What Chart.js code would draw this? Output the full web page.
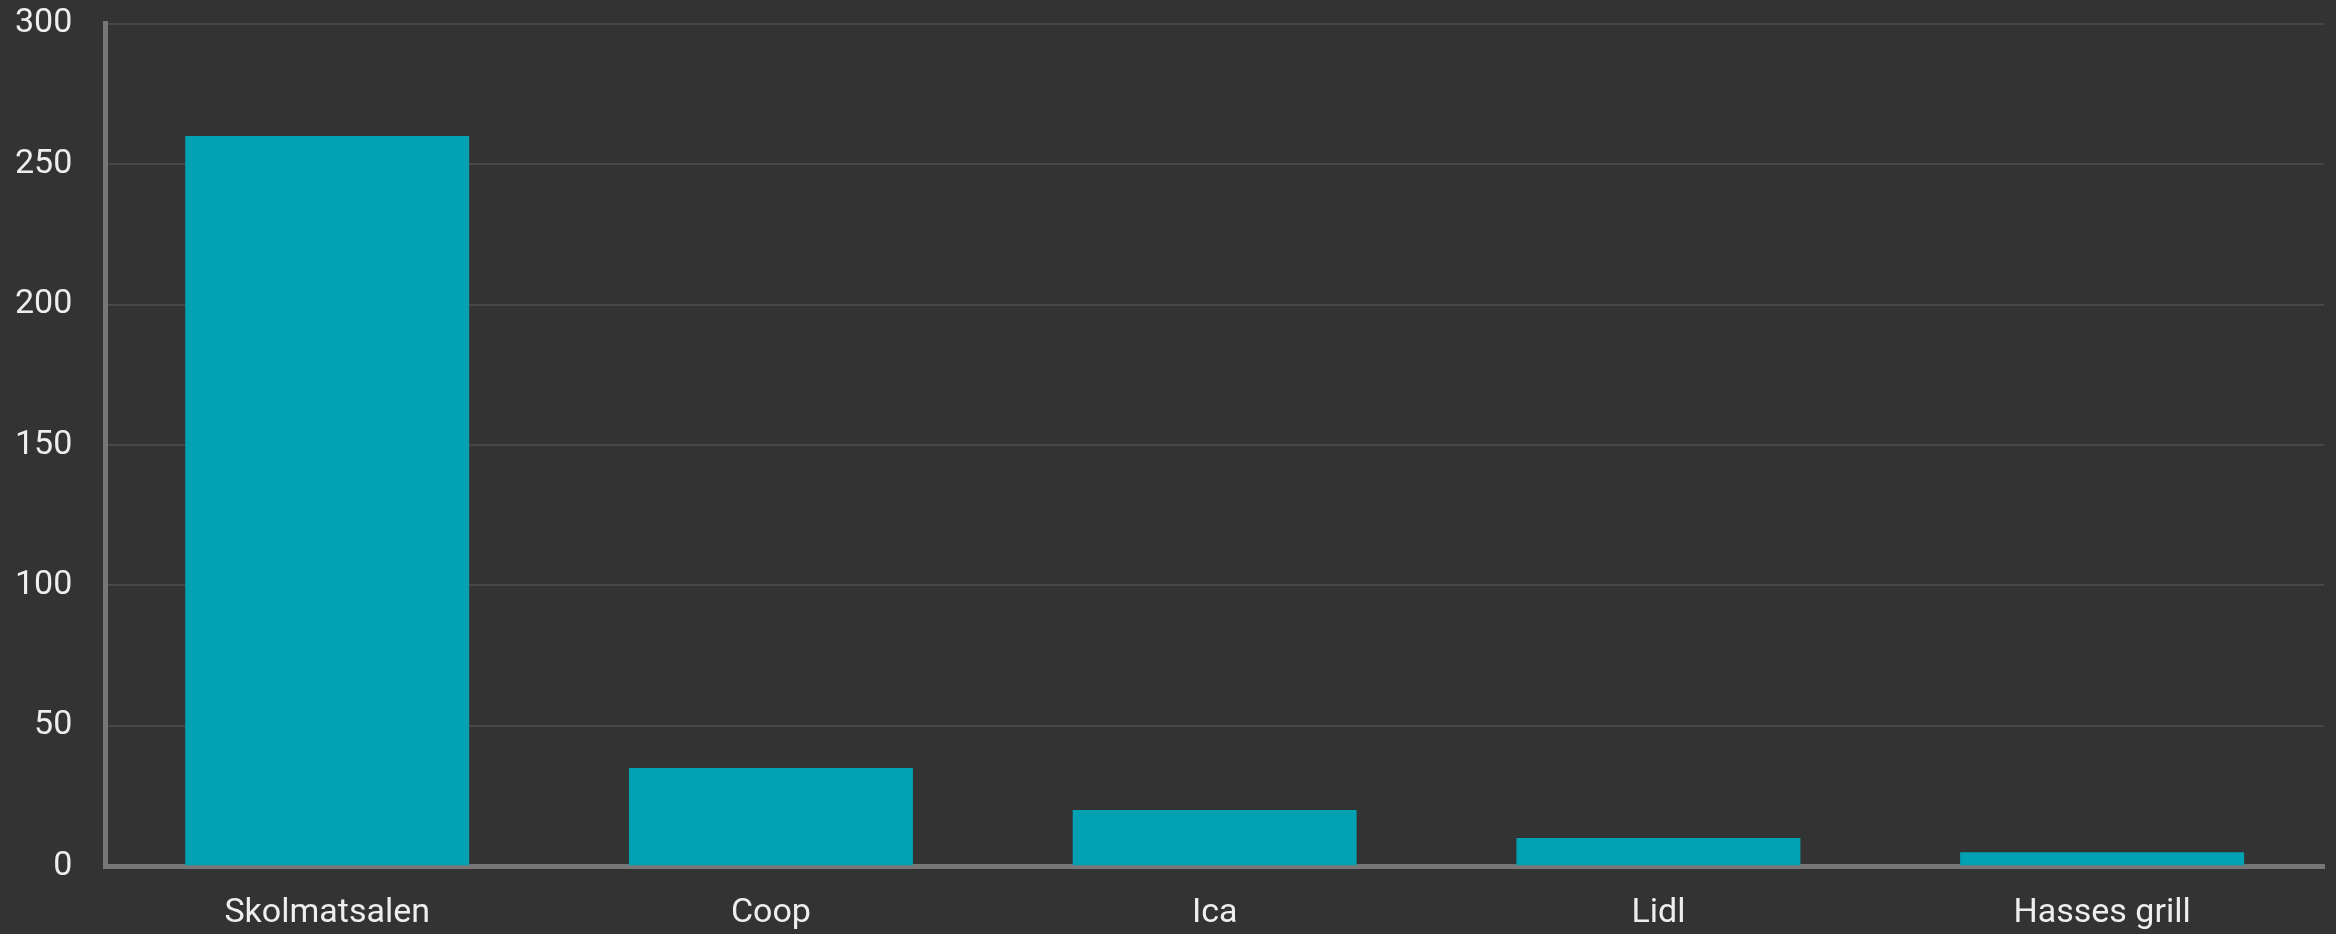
<!DOCTYPE html>
<html>
<head>
<meta charset="utf-8">
<script src="https://cdn.jsdelivr.net/npm/chart.js@4"></script>
<style>
  html, body { margin: 0; padding: 0; background: #333333; }
  #wrap { width: 2336px; height: 934px; }
</style>
</head>
<body>
<div id="wrap"><canvas id="c" width="2336" height="934"></canvas></div>
<script>
const categories = ["Skolmatsalen", "Coop", "Ica", "Lidl", "Hasses grill"];
const values = [260, 35, 20, 10, 5];
const yTicks = [0, 50, 100, 150, 200, 250, 300];

const X_FONT = { family: "Roboto", size: 34, lineHeight: 1.2 };
const Y_FONT = { family: "Roboto", size: 34, lineHeight: 1.4 };

new Chart(document.getElementById("c"), {
  type: "bar",
  data: {
    labels: categories,
    datasets: [{
      data: values,
      backgroundColor: "#00a1b2",
      borderWidth: 0,
      barPercentage: 0.8,
      categoryPercentage: 0.8
    }]
  },
  options: {
    responsive: false,
    devicePixelRatio: 1,
    animation: false,
    layout: { padding: { left: 15, right: 12, top: 0, bottom: 0 } },
    plugins: { legend: { display: false }, tooltip: { enabled: false } },
    scales: {
      x: {
        grid: { color: "transparent", drawTicks: true, tickLength: 27, tickColor: "transparent" },
        border: { display: true, color: "#777777", width: 5 },
        ticks: { color: "#eeeeee", font: X_FONT, padding: 0, maxRotation: 0 }
      },
      y: {
        min: yTicks[0],
        max: yTicks[yTicks.length - 1],
        afterBuildTicks: (axis) => { axis.ticks = yTicks.map(v => ({ value: v })); },
        grid: { color: "#474747", lineWidth: 2, drawTicks: true, tickLength: 33, tickColor: "transparent" },
        border: { display: true, color: "#777777", width: 5 },
        ticks: { color: "#eeeeee", font: Y_FONT, padding: 0 }
      }
    }
  }
});
</script>
</body>
</html>
